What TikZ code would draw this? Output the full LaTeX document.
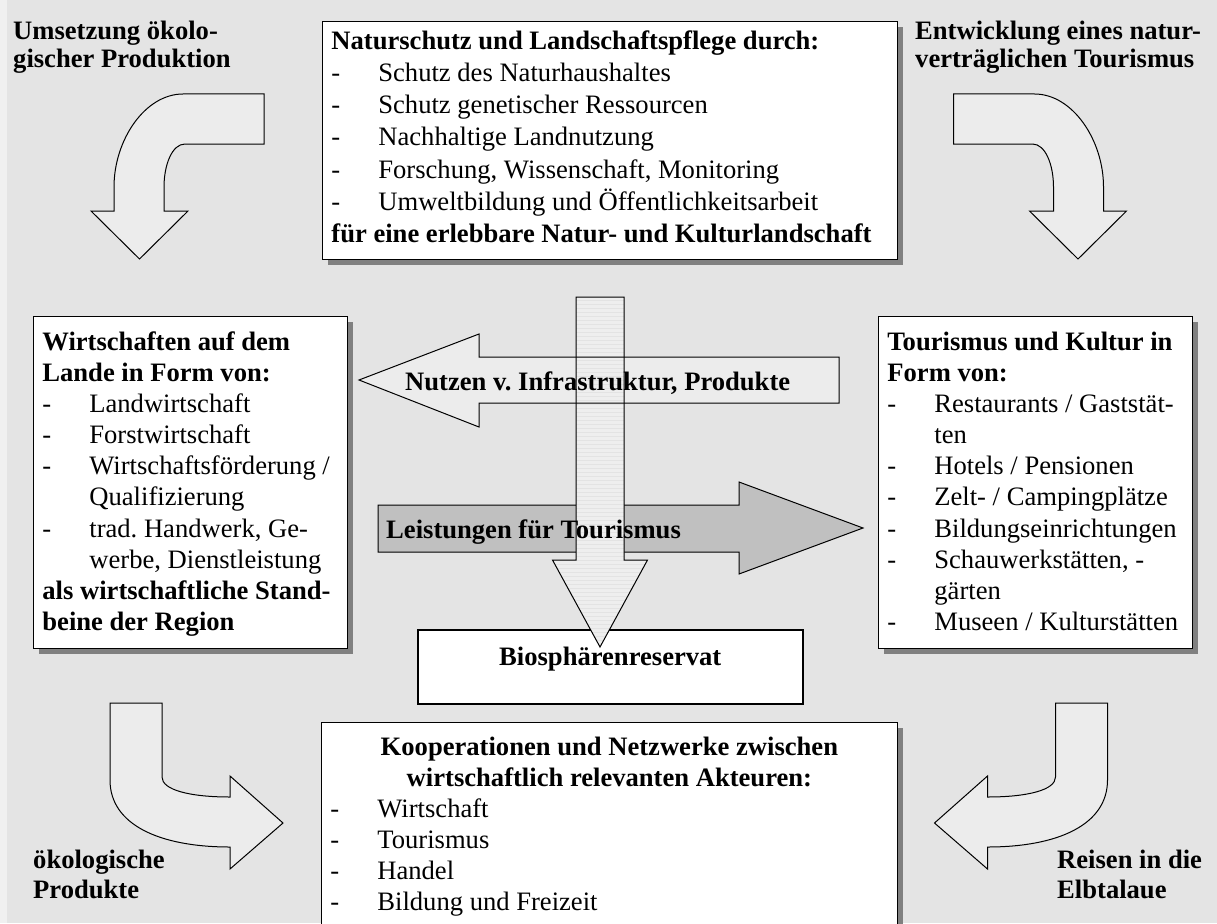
\documentclass[tikz,border=0pt]{standalone}
\usepackage{fontspec}
\setmainfont{Liberation Serif}
\usetikzlibrary{shadows}
\frenchspacing
\definecolor{bggray}{HTML}{E4E4E4}
\definecolor{stripcol}{HTML}{F0F0F0}
\definecolor{arrowfill}{HTML}{ECECEC}
\definecolor{vfill}{HTML}{EEEEEE}
\definecolor{darkfill}{HTML}{C0C0C0}
\definecolor{shadowgray}{HTML}{808080}
\definecolor{stripecol}{HTML}{E3E3E3}
\newcommand{\itm}[1]{\par\hangindent=47pt\hangafter=1\noindent\makebox[47pt][l]{-}#1}
\newcommand{\boxsetup}[2]{\fontsize{26.6pt}{#2}\selectfont\raggedright\leftskip=#1\relax\parindent=0pt\parskip=0pt\hyphenpenalty=10000\exhyphenpenalty=10000}
\tikzset{
  card/.style={draw=black, line width=0.8pt, fill=white, inner sep=0pt, anchor=north west,
    drop shadow={shadow xshift=6pt, shadow yshift=-6pt, fill=shadowgray, opacity=1}},
  plainbox/.style={draw=black, line width=1.5pt, fill=white, inner sep=0pt, anchor=north west},
  lbl/.style={inner sep=0pt, anchor=base west},
  blockarrow/.style={draw=black, line width=1pt, fill=arrowfill, line join=miter},
}
\begin{document}
\begin{tikzpicture}[x=1pt, y=-1pt]
\useasboundingbox (0,0) rectangle (1217,923);
\fill[stripcol] (0,0) rectangle (1217,923);
\fill[bggray] (7,0) rectangle (1217,923);

% curved arrows
\path[blockarrow] (264,94) -- (183,94) .. controls (145,94) and (114,140) .. (114,187) -- (114,211) -- (91,211) -- (139.5,259) -- (188,211) -- (164,211) -- (164,187) .. controls (164,165) and (172,144) .. (185,144) -- (264,144) -- cycle;
\path[blockarrow] (953.5,94) -- (1034.5,94) .. controls (1072.5,94) and (1103.5,140) .. (1103.5,187) -- (1103.5,211) -- (1126.5,211) -- (1078,259) -- (1029.5,211) -- (1053.5,211) -- (1053.5,187) .. controls (1053.5,165) and (1045.5,144) .. (1032.5,144) -- (953.5,144) -- cycle;
\path[blockarrow] (110,703) -- (162,703) -- (162,777) .. controls (162,790) and (190,797) .. (230,797) -- (230,776) -- (283,823) -- (230,869) -- (230,847) .. controls (160,847) and (110,825) .. (110,780) -- cycle;
\path[blockarrow] (1107.5,703) -- (1055.5,703) -- (1055.5,777) .. controls (1055.5,790) and (1027.5,797) .. (987.5,797) -- (987.5,776) -- (934.5,823) -- (987.5,869) -- (987.5,847) .. controls (1057.5,847) and (1107.5,825) .. (1107.5,780) -- cycle;

% corner labels
\node[lbl] (umsetzung) at (13,40) {\parbox[t]{260pt}{\fontsize{26.6pt}{28pt}\selectfont\bfseries Umsetzung ökolo-\\gischer Produktion}};
\node[lbl] (entwicklung) at (915,40) {\parbox[t]{300pt}{\fontsize{26.6pt}{28pt}\selectfont\bfseries Entwicklung eines natur-\\verträglichen Tourismus}};
\node[lbl] (oekoprod) at (33,868) {\parbox[t]{200pt}{\fontsize{26.6pt}{30pt}\selectfont\bfseries ökologische\\Produkte}};
\node[lbl] (reisen) at (1057,868) {\parbox[t]{160pt}{\fontsize{26.6pt}{30pt}\selectfont\bfseries Reisen in die\\Elbtalaue}};

% boxes
\node[card] (natur) at (322,21) {\parbox[t][238pt][t]{575pt}{\boxsetup{9pt}{32.2pt}\rule{0pt}{28pt}\textbf{Naturschutz und Landschaftspflege durch:}%
\itm{Schutz des Naturhaushaltes}%
\itm{Schutz genetischer Ressourcen}%
\itm{Nachhaltige Landnutzung}%
\itm{Forschung, Wissenschaft, Monitoring}%
\itm{Umweltbildung und Öffentlichkeitsarbeit}%
\par\noindent\textbf{für eine erlebbare Natur- und Kulturlandschaft}}};

\node[card] (wirtschaft) at (33,316) {\parbox[t][332pt][t]{314pt}{\boxsetup{9pt}{31.1pt}\rule{0pt}{34pt}\textbf{Wirtschaften auf dem}\newline\textbf{Lande in Form von:}%
\itm{Landwirtschaft}%
\itm{Forstwirtschaft}%
\itm{Wirtschaftsförderung /\newline Qualifizierung}%
\itm{trad.\ Handwerk, Ge-\newline werbe, Dienstleistung}%
\par\noindent\textbf{als wirtschaftliche Stand-}\newline\textbf{beine der Region}}};

\node[card] (tourismus) at (878,316) {\parbox[t][332pt][t]{314pt}{\boxsetup{9pt}{31.1pt}\rule{0pt}{34pt}\textbf{Tourismus und Kultur in}\newline\textbf{Form von:}%
\itm{Restaurants / Gaststät-\newline ten}%
\itm{Hotels / Pensionen}%
\itm{Zelt- / Campingplätze}%
\itm{Bildungseinrichtungen}%
\itm{Schauwerkstätten, -\newline gärten}%
\itm{Museen / Kulturstätten}}};

\node[card] (koop) at (321,722) {\parbox[t][215pt][t]{576pt}{\fontsize{26.6pt}{31pt}\selectfont\parindent=0pt\parskip=0pt\hyphenpenalty=10000\exhyphenpenalty=10000%
{\centering\rule{0pt}{33pt}\textbf{Kooperationen und Netzwerke zwischen}\\\textbf{wirtschaftlich relevanten Akteuren:}\par}%
\raggedright\leftskip=9pt\relax
\itm{Wirtschaft}%
\itm{Tourismus}%
\itm{Handel}%
\itm{Bildung und Freizeit}}};

\node[plainbox] (bio) at (417,629) {\parbox[t][74pt][t]{385pt}{\centering\fontsize{26.6pt}{31pt}\selectfont\rule{0pt}{36pt}\textbf{Biosphärenreservat}}};

% Leistungen arrow (dark)
\path[blockarrow, fill=darkfill] (378,505) -- (739,505) -- (739,482) -- (863,528) -- (739,574) -- (739,552) -- (378,552) -- cycle;
% Nutzen arrow fill
\fill[arrowfill] (359,380) -- (479,334) -- (479,357) -- (839,357) -- (839,403) -- (479,403) -- (479,427) -- cycle;
% vertical arrow with faint stripes
\begin{scope}
\clip (576,297) -- (624,297) -- (624,560) -- (647.5,560) -- (600,647) -- (552.5,560) -- (576,560) -- cycle;
\fill[vfill] (540,290) rectangle (660,660);
\foreach \yy in {300,304,...,648} { \draw[stripecol, line width=0.5pt] (540,\yy) -- (660,\yy); }
\end{scope}
\draw[line width=1pt, line join=miter] (576,297) -- (624,297) -- (624,560) -- (647.5,560) -- (600,647) -- (552.5,560) -- (576,560) -- cycle;
% Nutzen arrow outline
\draw[line width=1pt, line join=miter] (359,380) -- (479,334) -- (479,357) -- (839,357) -- (839,403) -- (479,403) -- (479,427) -- cycle;

% arrow labels
\node[lbl, font=\fontsize{26.6pt}{31pt}\selectfont\bfseries] (nutzen) at (405,390) {Nutzen v.\ Infrastruktur, Produkte};
\node[lbl, font=\fontsize{26.6pt}{31pt}\selectfont\bfseries] (leistungen) at (386,538) {Leistungen für Tourismus};
\end{tikzpicture}
\end{document}
